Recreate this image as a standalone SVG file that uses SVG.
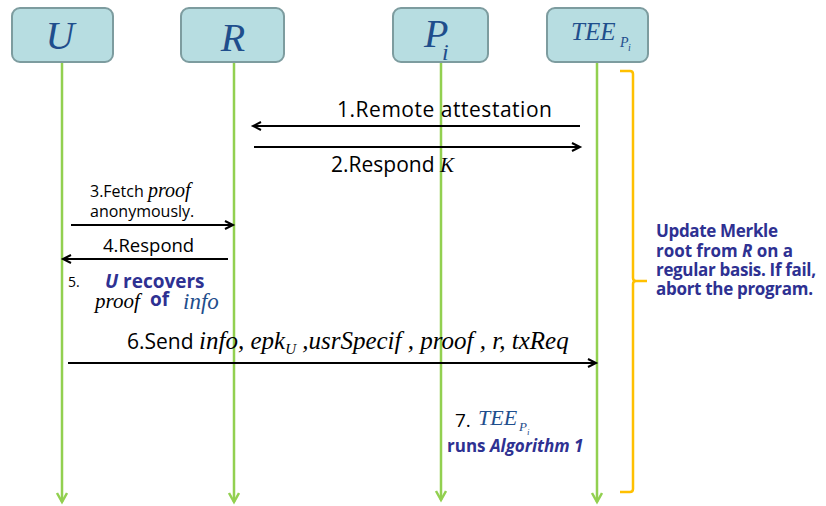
<svg xmlns="http://www.w3.org/2000/svg" width="826" height="506" viewBox="0 0 826 506">
<style>
.box{fill:#b7dde1;stroke:#7d9c9f;stroke-width:2}
.life{stroke:#92d050;stroke-width:2.5;fill:none}
.msg{stroke:#000;stroke-width:2;fill:none}
.sans{font-family:"Open Sans","Noto Sans",sans-serif;fill:#000}
.ser{font-family:"Liberation Serif","Times New Roman",serif;font-style:italic}
.blue{fill:#1f4e8c}
.bb{font-family:"Open Sans","Noto Sans",sans-serif;font-weight:bold;fill:#2e3192}
</style>
<defs>
<marker id="ah" markerWidth="12" markerHeight="12" refX="9" refY="5" orient="auto" markerUnits="userSpaceOnUse">
<path d="M1,1 L9,5 L1,9" fill="none" stroke="#000" stroke-width="2"/>
</marker>
<marker id="gh" markerWidth="14" markerHeight="14" refX="10" refY="6" orient="auto" markerUnits="userSpaceOnUse">
<path d="M1,1 L10,6 L1,11" fill="none" stroke="#92d050" stroke-width="2.5"/>
</marker>
</defs>
<rect width="826" height="506" fill="#fff"/>
<g id="lifelines">
<line class="life" x1="62" y1="62" x2="62" y2="502" marker-end="url(#gh)"/>
<line class="life" x1="234" y1="62" x2="234" y2="502" marker-end="url(#gh)"/>
<line class="life" x1="441" y1="62" x2="441" y2="500" marker-end="url(#gh)"/>
<line class="life" x1="597" y1="62" x2="597" y2="502" marker-end="url(#gh)"/>
</g>
<g id="node-U">
<rect class="box" x="12" y="8" width="101" height="54" rx="8"/>
<text class="ser blue" x="60" y="49" font-size="40" text-anchor="middle">U</text>
</g>
<g id="node-R">
<rect class="box" x="181" y="8" width="103" height="54" rx="8"/>
<text class="ser blue" x="233" y="51" font-size="40" text-anchor="middle">R</text>
</g>
<g id="node-P">
<rect class="box" x="393" y="8" width="95" height="54" rx="8"/>
<text class="ser blue" x="424" y="47" font-size="40">P</text>
<text class="ser blue" x="442" y="60" font-size="24">i</text>
</g>
<g id="node-TEE">
<rect class="box" x="547" y="8" width="101" height="54" rx="8"/>
<text class="ser blue" x="571" y="40" font-size="25">TEE</text>
<text class="ser blue" x="620" y="47" font-size="14">P</text>
<text class="ser blue" x="628" y="51" font-size="10">i</text>
</g>
<g id="connectors">
<line class="msg" x1="580" y1="126" x2="253" y2="126" marker-end="url(#ah)"/>
<line class="msg" x1="254" y1="147" x2="580" y2="147" marker-end="url(#ah)"/>
<line class="msg" x1="71" y1="225" x2="233" y2="225" marker-end="url(#ah)"/>
<line class="msg" x1="228" y1="259" x2="63" y2="259" marker-end="url(#ah)"/>
<line class="msg" x1="68" y1="363" x2="596" y2="363" marker-end="url(#ah)"/>
</g>
<g id="labels">
<text class="sans" x="337" y="117" font-size="21" textLength="215" lengthAdjust="spacing">1.Remote attestation</text>
<text class="sans" x="331" y="172" font-size="21">2.Respond <tspan class="ser" font-size="21">K</tspan></text>
<text class="sans" x="90" y="197" font-size="16">3.Fetch <tspan class="ser" font-size="20">proof</tspan></text>
<text class="sans" x="90" y="217" font-size="16">anonymously.</text>
<text class="sans" x="103" y="252" font-size="18.5">4.Respond</text>
<text class="sans" x="68" y="287" font-size="14">5.</text>
<text class="bb" x="105" y="288" font-size="19"><tspan font-style="italic">U</tspan> recovers</text>
<text class="ser" x="95" y="308" font-size="21" fill="#000">proof</text>
<text class="bb" x="150" y="306" font-size="19">of</text>
<text class="ser blue" x="183" y="309" font-size="23">info</text>
<text class="sans" x="127" y="349" font-size="21">6.Send <tspan class="ser" font-size="25">info</tspan><tspan class="ser" font-size="25">, epk</tspan><tspan class="ser" font-size="15" dy="5">U</tspan><tspan class="ser" font-size="25" dy="-5"> ,usrSpecif , proof , r, txReq</tspan></text>
<text class="sans" x="455" y="427" font-size="19">7.</text>
<text class="ser blue" x="478" y="425" font-size="22">TEE</text>
<text class="ser blue" x="519" y="431" font-size="13">P</text>
<text class="ser blue" x="527" y="435" font-size="9">i</text>
<text class="bb" x="447" y="452" font-size="17">runs <tspan font-style="italic">Algorithm 1</tspan></text>
</g>
<g id="brace">
<path d="M620,71 L630,71 Q633,71 633,74 L633,278 Q633,281 636,281 L647,281 M636,281 Q633,281 633,284 L633,489 Q633,492 630,492 L620,492" fill="none" stroke="#ffc000" stroke-width="2.5"/>
<text class="bb" x="656" y="237" font-size="17" textLength="122" lengthAdjust="spacing">Update Merkle</text>
<text class="bb" x="656" y="257" font-size="17" textLength="137" lengthAdjust="spacing">root from <tspan font-style="italic">R</tspan> on a</text>
<text class="bb" x="656" y="276" font-size="17" textLength="160" lengthAdjust="spacing">regular basis. If fail,</text>
<text class="bb" x="656" y="295" font-size="17" textLength="157" lengthAdjust="spacing">abort the program.</text>
</g>
</svg>
